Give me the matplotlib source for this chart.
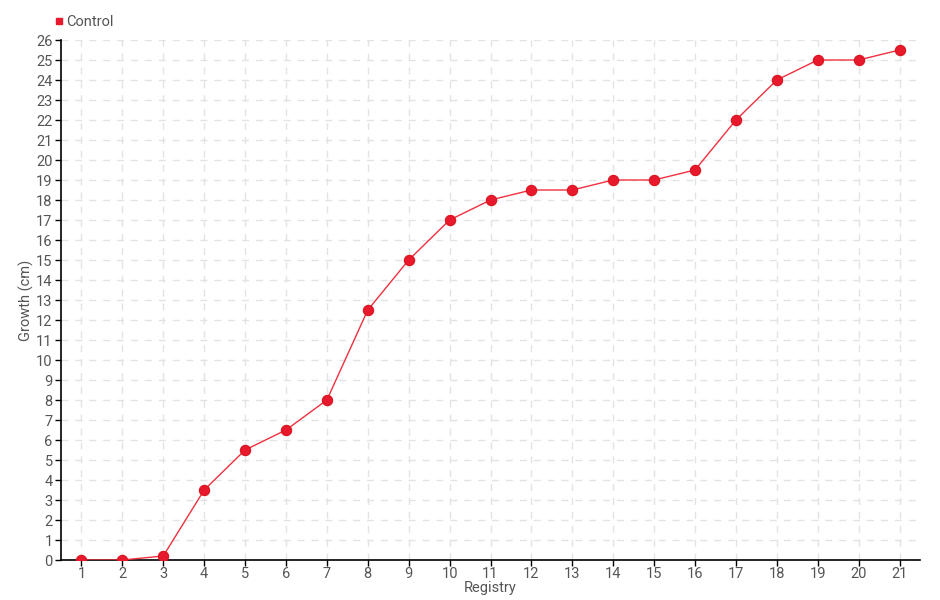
import matplotlib
matplotlib.use("Agg")
import matplotlib.pyplot as plt
from matplotlib.lines import Line2D

plt.rcParams['font.family'] = ['Roboto', 'DejaVu Sans']

registros = list(range(1, 22))
crecimiento = [0, 0, 0.2, 3.5, 5.5, 6.5, 8, 12.5, 15, 17, 18, 18.5, 18.5, 19, 19, 19.5, 22, 24, 25, 25, 25.5]
serie = "Control"

rojo = "#e8192c"
gris = "#555555"

fig = plt.figure(figsize=(9.4, 6), dpi=100)
ax = fig.add_axes([61/940, 40/600, (920-61)/940, 520/600])

ax.plot(registros, crecimiento, color="#f0303f", lw=1, zorder=3)
ax.scatter(registros, crecimiento, s=55, color=rojo, zorder=4, edgecolors="#d8151f", linewidths=0.8)

ax.set_xlim(0.5, 21.5)
ax.set_ylim(0, 26)
ax.set_xticks(registros)
ax.set_yticks(range(0, 27))
ax.tick_params(colors="black", labelcolor=gris, labelsize=10.5, length=4, width=1)
ax.tick_params(axis="x", pad=1)
ax.tick_params(axis="y", pad=2)
ax.grid(True, color="#e3e3e3", linestyle=(0, (5, 5)), lw=1, zorder=0)
ax.set_axisbelow(True)

for s in ["top", "right"]:
    ax.spines[s].set_visible(False)
for s in ["left", "bottom"]:
    ax.spines[s].set_color("black")
    ax.spines[s].set_linewidth(1.2)

ax.set_xlabel("Registry", color=gris, fontsize=10.5)
ax.xaxis.set_label_coords(0.5, -21/520)
ax.set_ylabel("Growth (cm)", color=gris, fontsize=10.5)
ax.yaxis.set_label_coords(-27/859, 0.5)

handle = Line2D([], [], marker="s", linestyle="none", color=rojo, markersize=5)
fig.legend([handle], [serie], loc="center left", bbox_to_anchor=(46/940, 1 - 22/600),
           frameon=False, fontsize=10.5, handletextpad=0.1, handlelength=0.8,
           labelcolor=gris, borderpad=0)

fig.savefig("out.png", dpi=100)
